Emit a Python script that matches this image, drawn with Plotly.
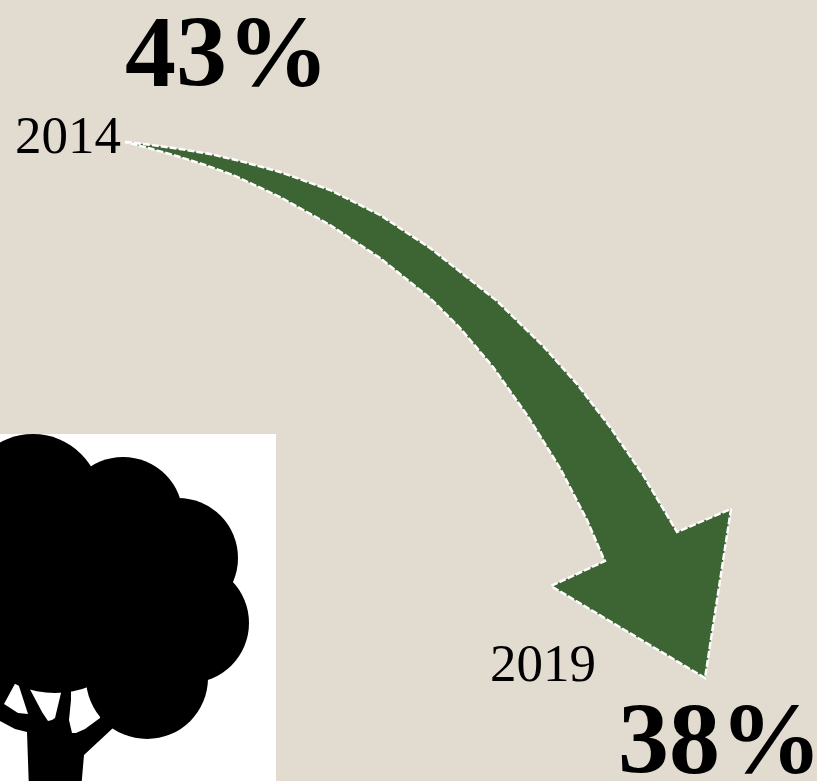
import plotly.graph_objects as go

# Reference picture measured in a 817x781 frame
W, H = 817, 781
BG = "#E2DCD0"
GREEN = "#3D6433"
FONT = "Liberation Serif"

# Arrow outline
arrow_top_x = [125, 152, 180, 210, 240, 280, 330, 380, 430, 480, 497, 543, 577, 610, 643, 677]
arrow_top_y = [142, 145, 149, 154, 161, 172, 190, 215, 248, 287, 301, 346, 384, 427, 475, 532]
arrow_head_x = [731, 705, 551, 605]
arrow_head_y = [509, 678, 586, 561]
arrow_bottom_x = [603, 587, 560, 527, 493, 460, 430, 380, 330, 280, 233, 205, 180, 152, 125]
arrow_bottom_y = [557, 520, 468, 415, 367, 328, 298, 258, 225, 197, 175, 165, 157, 149, 142]

# Labels
big_labels = ["43%", "38%"]
big_x = [125, 618]
big_y = [60, 747]
year_labels = ["2014", "2019"]
year_x = [15, 490]
year_y = [140, 668]

# Tree picture: white panel, crown lobes (cx, cy, r), trunk, and gaps between branches
panel = (-5, 434, 276, 790)
crown_lobes = [(55, 600, 93), (33, 502, 68), (123, 517, 60), (178, 558, 60),
               (189, 623, 60), (147, 678, 61), (110, 590, 75)]
trunk_x = [-5, 112, 113, 84, 81, 29, 27, 15, 0, -5]
trunk_y = [660, 660, 728, 755, 790, 790, 732, 729, 721, 718]
gaps = [
    ([17, 28, 18, 4], [680, 714, 713, 704]),
    ([25, 61, 61, 55, 52, 48, 42], [680, 680, 693, 718, 720, 721, 712]),
    ([71, 110, 100, 85, 76, 72, 69, 71], [680, 680, 718, 729, 733, 733, 720, 700]),
]

fig = go.Figure()


def poly(xs, ys, color):
    path = "M" + " L".join(f"{x},{y}" for x, y in zip(xs, ys)) + " Z"
    return dict(type="path", path=path, fillcolor=color, line_width=0, layer="above", xref="x", yref="y")


shapes = [dict(type="rect", x0=panel[0], y0=panel[1], x1=panel[2], y1=panel[3],
               fillcolor="white", line_width=0, layer="above")]
shapes.append(poly(trunk_x, trunk_y, "black"))
for gx, gy in gaps:
    shapes.append(poly(gx, gy, "white"))
for cx, cy, r in crown_lobes:
    shapes.append(dict(type="circle", x0=cx - r, x1=cx + r, y0=cy - r, y1=cy + r,
                       fillcolor="black", line_width=0, layer="above"))

xs = arrow_top_x + arrow_head_x + arrow_bottom_x
ys = arrow_top_y + arrow_head_y + arrow_bottom_y
fig.add_trace(go.Scatter(x=xs, y=ys, mode="lines", fill="toself", fillcolor=GREEN,
                         line=dict(color="white", width=2.4, dash="7px,2px"), hoverinfo="skip"))
fig.add_trace(go.Scatter(x=big_x, y=big_y, mode="text", text=[f"<b>{t}</b>" for t in big_labels],
                         textposition="middle right", cliponaxis=False,
                         textfont=dict(family=FONT, size=102, color="black"), hoverinfo="skip"))
fig.add_trace(go.Scatter(x=year_x, y=year_y, mode="text", text=year_labels,
                         textposition="middle right", cliponaxis=False,
                         textfont=dict(family=FONT, size=53, color="black"), hoverinfo="skip"))

fig.update_layout(
    width=W, height=H, margin=dict(l=0, r=0, t=0, b=0), showlegend=False,
    paper_bgcolor=BG, plot_bgcolor=BG, shapes=shapes,
    xaxis=dict(range=[0, W], visible=False, fixedrange=True),
    yaxis=dict(range=[H, 0], visible=False, fixedrange=True),
)
fig.write_html("out.html", config=dict(displayModeBar=False),
               post_script="document.body.style.margin='0';document.body.style.overflow='hidden';"
                           f"document.body.style.background='{BG}';")
